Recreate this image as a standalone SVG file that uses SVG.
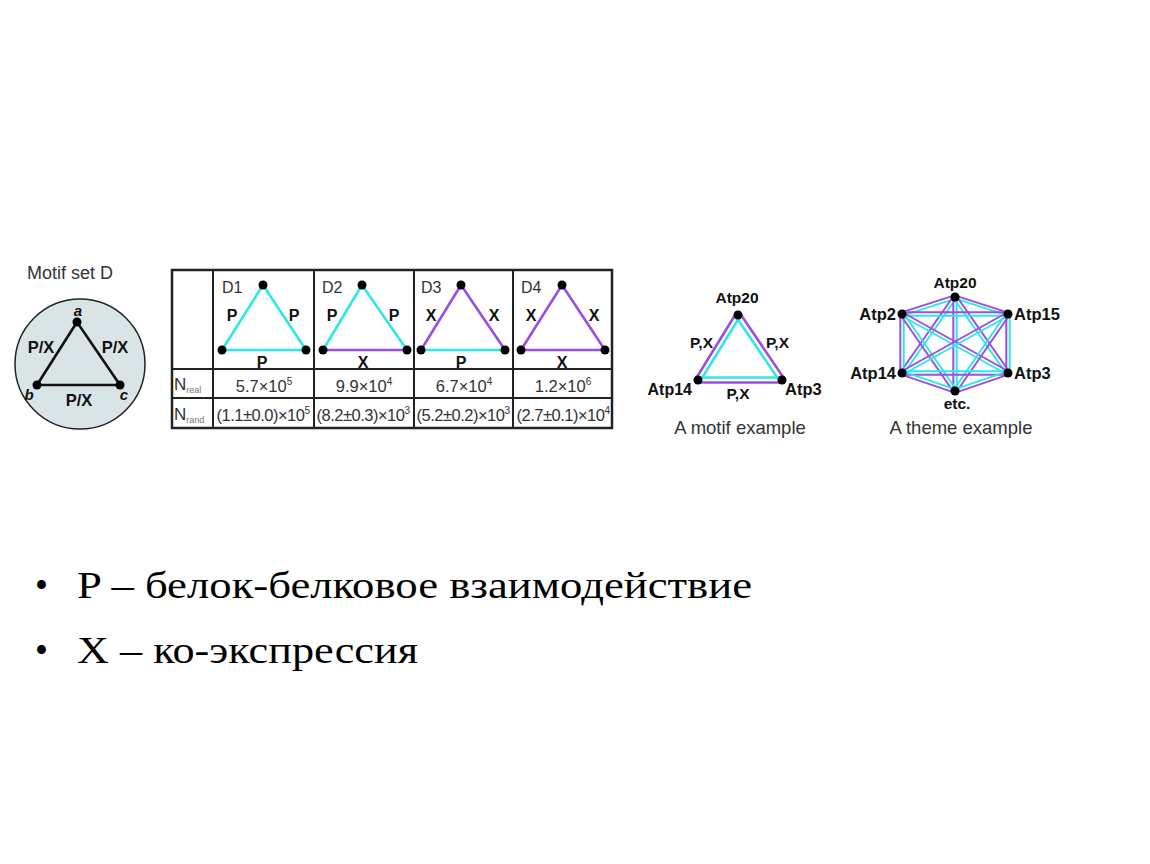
<svg xmlns="http://www.w3.org/2000/svg" width="1150" height="864" viewBox="0 0 1150 864">
<style>
.s{font-family:"Liberation Sans",Arial,sans-serif;fill:#333}
.b{font-family:"Liberation Sans",Arial,sans-serif;font-weight:bold;fill:#111}
.c{stroke:#2ee8e8;stroke-width:2.6;fill:none}
.p{stroke:#9b4ee6;stroke-width:2.6;fill:none}
#theme-edges line{stroke-width:2}
.k{stroke:#111;stroke-width:2.6;fill:none}
.g{stroke:#222;stroke-width:2;fill:none}
.ser{font-family:"Liberation Serif","Times New Roman",serif;fill:#000;font-size:37px}
</style>
<rect width="1150" height="864" fill="#fff"/>

<g id="motif-set-d">
<text class="s" x="27" y="279" font-size="18">Motif set D</text>
<circle cx="80" cy="364" r="65" fill="#d9e4e6" stroke="#222" stroke-width="1.5"/>
<polygon points="77,322 37,385 120,385" class="k"/>
<circle cx="77" cy="322" r="4.5" fill="#000"/>
<circle cx="37" cy="385" r="4.5" fill="#000"/>
<circle cx="120" cy="385" r="4.5" fill="#000"/>
<text class="b" x="78" y="316" font-size="15" font-style="italic" text-anchor="middle">a</text>
<text class="b" x="29" y="400" font-size="15" font-style="italic" text-anchor="middle">b</text>
<text class="b" x="124" y="400" font-size="15" font-style="italic" text-anchor="middle">c</text>
<text class="b" x="41" y="353" font-size="16.5" text-anchor="middle">P/X</text>
<text class="b" x="115" y="353" font-size="16.5" text-anchor="middle">P/X</text>
<text class="b" x="79" y="406" font-size="16.5" text-anchor="middle">P/X</text>
</g>

<g id="table">
<rect x="172" y="270" width="440" height="158" fill="#fff" stroke="#222" stroke-width="2.5"/>
<line class="g" x1="213" y1="270" x2="213" y2="428"/>
<line class="g" x1="314" y1="270" x2="314" y2="428"/>
<line class="g" x1="414" y1="270" x2="414" y2="428"/>
<line class="g" x1="513" y1="270" x2="513" y2="428"/>
<line class="g" x1="172" y1="369" x2="612" y2="369"/>
<line class="g" x1="172" y1="398" x2="612" y2="398"/>
<text class="s" x="174" y="390" font-size="17">N<tspan font-size="9" fill="#777" dy="3">real</tspan></text>
<text class="s" x="174" y="420" font-size="17">N<tspan font-size="9" fill="#777" dy="3">rand</tspan></text>
<text class="s" x="264" y="392" font-size="16.5" text-anchor="middle">5.7×10<tspan font-size="10" dy="-7">5</tspan></text>
<text class="s" x="364" y="392" font-size="16.5" text-anchor="middle">9.9×10<tspan font-size="10" dy="-7">4</tspan></text>
<text class="s" x="464" y="392" font-size="16.5" text-anchor="middle">6.7×10<tspan font-size="10" dy="-7">4</tspan></text>
<text class="s" x="563" y="392" font-size="16.5" text-anchor="middle">1.2×10<tspan font-size="10" dy="-7">6</tspan></text>
<text class="s" x="263" y="421" font-size="16.5" text-anchor="middle" letter-spacing="-0.5">(1.1±0.0)×10<tspan font-size="10" dy="-7">5</tspan></text>
<text class="s" x="363" y="421" font-size="16.5" text-anchor="middle" letter-spacing="-0.5">(8.2±0.3)×10<tspan font-size="10" dy="-7">3</tspan></text>
<text class="s" x="463" y="421" font-size="16.5" text-anchor="middle" letter-spacing="-0.5">(5.2±0.2)×10<tspan font-size="10" dy="-7">3</tspan></text>
<text class="s" x="563" y="421" font-size="16.5" text-anchor="middle" letter-spacing="-0.5">(2.7±0.1)×10<tspan font-size="10" dy="-7">4</tspan></text>
</g>

<g id="D1">
<text class="s" x="222" y="293" font-size="16">D1</text>
<line class="c" x1="263" y1="285" x2="222" y2="350"/>
<line class="c" x1="263" y1="285" x2="306" y2="350"/>
<line class="c" x1="222" y1="350" x2="306" y2="350"/>
<circle cx="263" cy="285" r="4.5"/><circle cx="222" cy="350" r="4.5"/><circle cx="306" cy="350" r="4.5"/>
<text class="b" x="232" y="321" font-size="16" text-anchor="middle">P</text>
<text class="b" x="294" y="321" font-size="16" text-anchor="middle">P</text>
<text class="b" x="262" y="368" font-size="16" text-anchor="middle">P</text>
</g>
<g id="D2">
<text class="s" x="322" y="293" font-size="16">D2</text>
<line class="c" x1="362" y1="285" x2="323" y2="350"/>
<line class="c" x1="362" y1="285" x2="407" y2="350"/>
<line class="p" x1="323" y1="350" x2="407" y2="350"/>
<circle cx="362" cy="285" r="4.5"/><circle cx="323" cy="350" r="4.5"/><circle cx="407" cy="350" r="4.5"/>
<text class="b" x="332" y="321" font-size="16" text-anchor="middle">P</text>
<text class="b" x="394" y="321" font-size="16" text-anchor="middle">P</text>
<text class="b" x="363" y="368" font-size="16" text-anchor="middle">X</text>
</g>
<g id="D3">
<text class="s" x="421" y="293" font-size="16">D3</text>
<line class="p" x1="461" y1="285" x2="421" y2="350"/>
<line class="p" x1="461" y1="285" x2="505" y2="350"/>
<line class="c" x1="421" y1="350" x2="505" y2="350"/>
<circle cx="461" cy="285" r="4.5"/><circle cx="421" cy="350" r="4.5"/><circle cx="505" cy="350" r="4.5"/>
<text class="b" x="431" y="321" font-size="16" text-anchor="middle">X</text>
<text class="b" x="494" y="321" font-size="16" text-anchor="middle">X</text>
<text class="b" x="461" y="368" font-size="16" text-anchor="middle">P</text>
</g>
<g id="D4">
<text class="s" x="521" y="293" font-size="16">D4</text>
<line class="p" x1="562" y1="285" x2="521" y2="350"/>
<line class="p" x1="562" y1="285" x2="605" y2="350"/>
<line class="p" x1="521" y1="350" x2="605" y2="350"/>
<circle cx="562" cy="285" r="4.5"/><circle cx="521" cy="350" r="4.5"/><circle cx="605" cy="350" r="4.5"/>
<text class="b" x="531" y="321" font-size="16" text-anchor="middle">X</text>
<text class="b" x="594" y="321" font-size="16" text-anchor="middle">X</text>
<text class="b" x="562" y="368" font-size="16" text-anchor="middle">X</text>
</g>

<g id="motif-example">
<g id="motif-edges">
<line class="p" x1="735.9" y1="313.7" x2="695.9" y2="378.7"/>
<line class="c" x1="740.1" y1="316.3" x2="700.1" y2="381.3"/>
<line class="p" x1="740.1" y1="313.6" x2="784.1" y2="378.6"/>
<line class="c" x1="735.9" y1="316.4" x2="779.9" y2="381.4"/>
<line class="p" x1="698" y1="382.5" x2="782" y2="382.5"/>
<line class="c" x1="698" y1="377.5" x2="782" y2="377.5"/>
</g>
<circle cx="738" cy="315" r="4.5"/><circle cx="698" cy="380" r="4.5"/><circle cx="782" cy="380" r="4.5"/>
<text class="b" x="737" y="303" font-size="15.5" text-anchor="middle">Atp20</text>
<text class="b" x="692" y="395" font-size="16" text-anchor="end">Atp14</text>
<text class="b" x="785" y="395" font-size="16.5">Atp3</text>
<text class="b" x="713" y="348" font-size="15.5" text-anchor="end">P,X</text>
<text class="b" x="766" y="348" font-size="15.5">P,X</text>
<text class="b" x="738" y="399" font-size="15.5" text-anchor="middle">P,X</text>
<text class="s" x="740" y="434" font-size="18.5" text-anchor="middle">A motif example</text>
</g>

<g id="theme-example">
<g id="theme-edges">
<line class="c" x1="955.5" y1="298.6" x2="902.5" y2="315.6"/>
<line class="p" x1="954.5" y1="295.4" x2="901.5" y2="312.4"/>
<line class="c" x1="955.5" y1="298.6" x2="1008.5" y2="315.6"/>
<line class="p" x1="954.5" y1="295.4" x2="1007.5" y2="312.4"/>
<line class="c" x1="956.4" y1="298.0" x2="903.4" y2="374.0"/>
<line class="p" x1="953.6" y1="296.0" x2="900.6" y2="372.0"/>
<line class="c" x1="953.6" y1="298.0" x2="1006.6" y2="374.0"/>
<line class="p" x1="956.4" y1="296.0" x2="1009.4" y2="372.0"/>
<line class="c" x1="956.7" y1="297" x2="956.7" y2="391"/>
<line class="p" x1="953.3" y1="297" x2="953.3" y2="391"/>
<line class="c" x1="902" y1="315.7" x2="1008" y2="315.7"/>
<line class="p" x1="902" y1="312.3" x2="1008" y2="312.3"/>
<line class="c" x1="903.7" y1="314" x2="903.7" y2="373"/>
<line class="p" x1="900.3" y1="314" x2="900.3" y2="373"/>
<line class="c" x1="901.2" y1="315.5" x2="1007.2" y2="374.5"/>
<line class="p" x1="902.8" y1="312.5" x2="1008.8" y2="371.5"/>
<line class="c" x1="903.4" y1="313.0" x2="956.4" y2="390.0"/>
<line class="p" x1="900.6" y1="315.0" x2="953.6" y2="392.0"/>
<line class="c" x1="1008.8" y1="315.5" x2="902.8" y2="374.5"/>
<line class="p" x1="1007.2" y1="312.5" x2="901.2" y2="371.5"/>
<line class="c" x1="1009.7" y1="314" x2="1009.7" y2="373"/>
<line class="p" x1="1006.3" y1="314" x2="1006.3" y2="373"/>
<line class="c" x1="1006.6" y1="313.0" x2="953.6" y2="390.0"/>
<line class="p" x1="1009.4" y1="315.0" x2="956.4" y2="392.0"/>
<line class="c" x1="902" y1="371.3" x2="1008" y2="371.3"/>
<line class="p" x1="902" y1="374.7" x2="1008" y2="374.7"/>
<line class="c" x1="902.5" y1="371.4" x2="955.5" y2="389.4"/>
<line class="p" x1="901.5" y1="374.6" x2="954.5" y2="392.6"/>
<line class="c" x1="1007.5" y1="371.4" x2="954.5" y2="389.4"/>
<line class="p" x1="1008.5" y1="374.6" x2="955.5" y2="392.6"/>
</g>
<circle cx="955" cy="297" r="4.5"/><circle cx="902" cy="314" r="4.5"/><circle cx="1008" cy="314" r="4.5"/>
<circle cx="902" cy="373" r="4.5"/><circle cx="1008" cy="373" r="4.5"/><circle cx="955" cy="391" r="4.5"/>
<text class="b" x="955" y="288" font-size="15.5" text-anchor="middle">Atp20</text>
<text class="b" x="896" y="320" font-size="16.5" text-anchor="end">Atp2</text>
<text class="b" x="1014" y="320" font-size="16.5">Atp15</text>
<text class="b" x="896" y="379" font-size="16.5" text-anchor="end">Atp14</text>
<text class="b" x="1014" y="379" font-size="16.5">Atp3</text>
<text class="b" x="957" y="409" font-size="15.5" text-anchor="middle">etc.</text>
<text class="s" x="961" y="434" font-size="18.5" text-anchor="middle">A theme example</text>
</g>

<g id="bullets">
<text class="ser" x="35" y="598">•</text>
<text class="ser" x="77" y="598" textLength="675" lengthAdjust="spacingAndGlyphs">P – белок-белковое взаимодействие</text>
<text class="ser" x="35" y="663">•</text>
<text class="ser" x="77" y="663" textLength="341" lengthAdjust="spacingAndGlyphs">X – ко-экспрессия</text>
</g>
</svg>
